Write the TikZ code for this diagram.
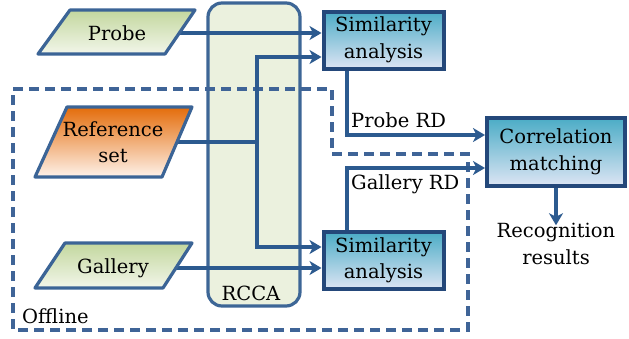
\documentclass[tikz,border=0pt]{standalone}
\usepackage{fontspec}
\setmainfont{DejaVu Serif}
\usetikzlibrary{arrows.meta,calc}
\definecolor{arrowc}{HTML}{2C5A8F}
\definecolor{boxborder}{HTML}{24487A}
\definecolor{dashc}{HTML}{3F6497}
\definecolor{parborder}{HTML}{3B6496}
\definecolor{rccafill}{HTML}{EBF1DE}
\definecolor{rccaborder}{HTML}{3D6696}
\definecolor{gtop}{HTML}{C3D79E}
\definecolor{gmid}{HTML}{9CBB5F}
\definecolor{gbot}{HTML}{F2F6EA}
\definecolor{otop}{HTML}{E46C0A}
\definecolor{omid}{HTML}{F6B183}
\definecolor{obot}{HTML}{FEF2EA}
\definecolor{stop}{HTML}{4BACC6}
\definecolor{smid}{HTML}{A8CFE2}
\definecolor{sbot}{HTML}{DDE5F4}
\tikzset{
  arr/.style={draw=arrowc, line width=3.2pt, -{Stealth[length=12pt,width=14pt,inset=3.5pt]}},
  procbox/.style={draw=boxborder, line width=4pt, minimum width=120pt, minimum height=57pt,
    top color=stop, middle color=smid, bottom color=sbot, align=center, inner sep=0pt},
  par/.style={draw=parborder, line width=3.2pt, line join=round},
  lbl/.style={font=\fontsize{19.5}{26.5}\selectfont, align=center, inner sep=0pt},
}
\begin{document}
\begin{tikzpicture}[x=1pt,y=-1pt, font=\fontsize{19.5}{26.5}\selectfont]
\useasboundingbox (0,0) rectangle (629,338);
% RCCA
\node[draw=rccaborder, fill=rccafill, line width=3.2pt, rounded corners=14pt,
  minimum width=92pt, minimum height=303pt, inner sep=0pt] (rcca) at (254,154.5) {};
\node[lbl] (rccal) at (251,293) {RCCA};
% Offline dashed region
\draw[draw=dashc, line width=3.2pt, dash pattern=on 10pt off 6pt]
  (13,89) -- (332,89) -- (332,154) -- (468,154) -- (468,330) -- (13,330) -- cycle;
\node[lbl, anchor=west] (offline) at (22,316) {Offline};
% anchor points for parallelograms
\coordinate (probec) at (117,33);
\coordinate (refc) at (113,142);
\coordinate (galc) at (113,268);
% process boxes
\node[procbox] (simtop) at (383.5,40) {Similarity\\analysis};
\node[procbox] (simbot) at (383.5,260.5) {Similarity\\analysis};
\node[procbox, minimum width=138pt, minimum height=68pt] (corr) at (556,152) {Correlation\\matching};
\node[lbl] (rec) at (556,244) {Recognition\\results};
% connectors
\coordinate (j) at (257,142);
\draw[arr] (probec) -- (probec -| simtop.west);
\draw[arr] (refc) -- (j) |- ([yshift=-17pt]simtop.west);
\draw[arr] (j) |- ([yshift=13.5pt]simbot.west);
\draw[arr] (galc) -- (galc -| simbot.west);
\draw[arr] ([xshift=-36.5pt]simtop.south) |- ([yshift=17pt]corr.west);
\node[lbl, anchor=west] (prd) at (351,120) {Probe RD};
\draw[arr] ([xshift=-36.5pt]simbot.north) |- ([yshift=-16pt]corr.west);
\node[lbl, anchor=west] (grd) at (351,184) {Gallery RD};
\draw[arr] (corr.south) -- ([yshift=-2pt]rec.north);
% parallelograms
\path[par, top color=gtop, middle color=gmid, bottom color=gbot]
  (70,10) -- (195,10) -- (165,54) -- (38,54) -- cycle;
\node[lbl] (probe) at (probec) {Probe};
\path[par, top color=otop, middle color=omid, bottom color=obot]
  (67,107) -- (192,107) -- (162,177) -- (35,177) -- cycle;
\node[lbl] (ref) at (refc) {Reference\\set};
\path[par, top color=gtop, middle color=gmid, bottom color=gbot]
  (65,243) -- (192,243) -- (163,288) -- (35,288) -- cycle;
\node[lbl] (gal) at (galc) {Gallery};
% redraw boxes on top
\node[procbox] at (simtop) {Similarity\\analysis};
\node[procbox] at (simbot) {Similarity\\analysis};
\end{tikzpicture}
\end{document}
